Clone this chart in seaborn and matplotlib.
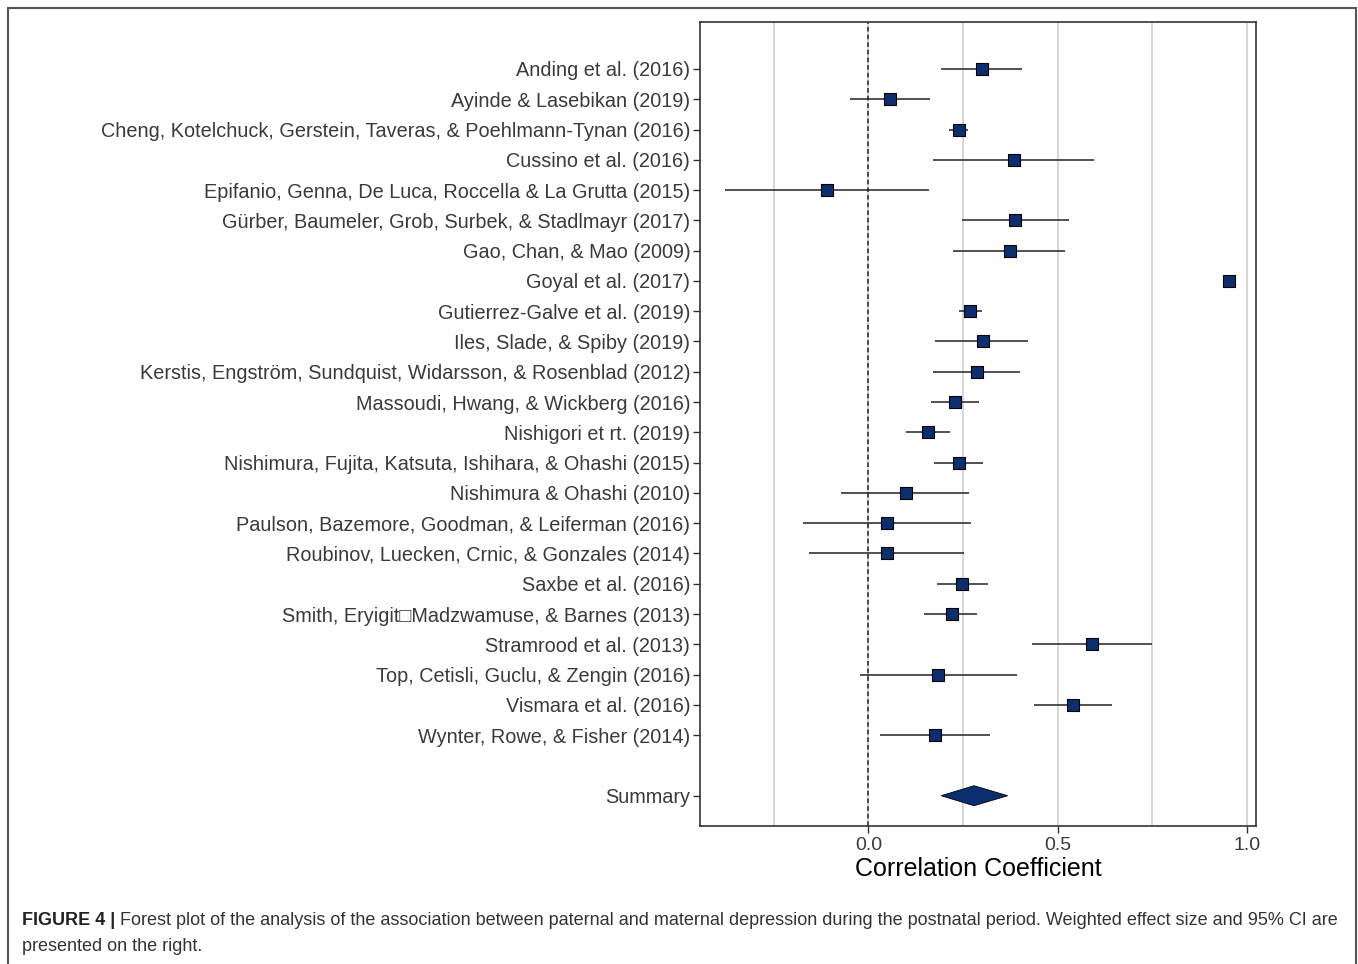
import numpy as np
import pandas as pd
import seaborn as sns
import matplotlib
matplotlib.use("Agg")
import matplotlib.pyplot as plt
from matplotlib.ticker import FixedLocator, MultipleLocator
from matplotlib.lines import Line2D

# ---------------- data ----------------
studies = [
    "Anding et al. (2016)",
    "Ayinde & Lasebikan (2019)",
    "Cheng, Kotelchuck, Gerstein, Taveras, & Poehlmann-Tynan (2016)",
    "Cussino et al. (2016)",
    "Epifanio, Genna, De Luca, Roccella & La Grutta (2015)",
    "Gürber, Baumeler, Grob, Surbek, & Stadlmayr (2017)",
    "Gao, Chan, & Mao (2009)",
    "Goyal et al. (2017)",
    "Gutierrez-Galve et al. (2019)",
    "Iles, Slade, & Spiby (2019)",
    "Kerstis, Engström, Sundquist, Widarsson, & Rosenblad (2012)",
    "Massoudi, Hwang, & Wickberg (2016)",
    "Nishigori et rt. (2019)",
    "Nishimura, Fujita, Katsuta, Ishihara, & Ohashi (2015)",
    "Nishimura & Ohashi (2010)",
    "Paulson, Bazemore, Goodman, & Leiferman (2016)",
    "Roubinov, Luecken, Crnic, & Gonzales (2014)",
    "Saxbe et al. (2016)",
    "Smith, Eryigit\u25a1Madzwamuse, & Barnes (2013)",
    "Stramrood et al. (2013)",
    "Top, Cetisli, Guclu, & Zengin (2016)",
    "Vismara et al. (2016)",
    "Wynter, Rowe, & Fisher (2014)",
]
estimates = [0.300, 0.058, 0.240, 0.384, -0.108, 0.388, 0.374, 0.952, 0.269,
             0.302, 0.288, 0.229, 0.157, 0.238, 0.099, 0.049, 0.049, 0.248,
             0.220, 0.590, 0.184, 0.541, 0.177]
lower = [0.191, -0.049, 0.214, 0.171, -0.378, 0.246, 0.223, 0.947, 0.238,
         0.176, 0.171, 0.165, 0.099, 0.173, -0.072, -0.174, -0.156, 0.180,
         0.148, 0.431, -0.023, 0.438, 0.030]
upper = [0.407, 0.163, 0.264, 0.595, 0.159, 0.529, 0.519, 0.957, 0.300,
         0.421, 0.401, 0.291, 0.215, 0.302, 0.267, 0.271, 0.253, 0.317,
         0.288, 0.748, 0.392, 0.643, 0.320]

summary_label = "Summary"
summary_est = 0.279
summary_lower = 0.192
summary_upper = 0.368

x_ticks = [0.0, 0.5, 1.0]
x_tick_labels = ["0.0", "0.5", "1.0"]
x_label = "Correlation Coefficient"

caption_bold = "FIGURE 4 |"
caption_line1 = (" Forest plot of the analysis of the association between paternal and maternal "
                 "depression during the postnatal period. Weighted effect size and 95% CI are")
caption_line2 = "presented on the right."

# ---------------- figure ----------------
W, H = 1358, 964
fig = plt.figure(figsize=(W / 100, H / 100), dpi=100)
sns.set_style("white")
plt.rcParams["font.family"] = ["Liberation Sans", "DejaVu Sans"]

ax = fig.add_axes([700 / W, 1 - 826 / H, 556 / W, 804 / H])

n = len(studies)
df = pd.DataFrame({"study": studies, "est": estimates, "lo": lower, "hi": upper})
df["pos"] = np.arange(n)
summary_pos = n + 1

navy = "#0B2F6E"
grid_col = "#CFCFCF"
text_col = "#3A3A3A"

# grid (major + minor vertical)
ax.set_axisbelow(True)
ax.xaxis.set_major_locator(FixedLocator(x_ticks))
ax.xaxis.set_minor_locator(MultipleLocator(0.25))
ax.grid(axis="x", which="both", color=grid_col, lw=1.2)
ax.grid(axis="y", visible=False)

# reference line at zero
ax.axvline(0, color="#222222", lw=1.1, ls=(0, (3, 2)), zorder=2)

# CI lines
ax.hlines(df["pos"], df["lo"], df["hi"], color="#222222", lw=1.1, zorder=3)

# points
sns.scatterplot(data=df, x="est", y="pos", marker="s", s=66, color=navy,
                edgecolor="black", linewidth=0.8, zorder=4, ax=ax, legend=False)

# summary diamond
dh = 0.33
ax.fill([summary_lower, summary_est, summary_upper, summary_est],
        [summary_pos, summary_pos - dh, summary_pos, summary_pos + dh],
        color=navy, edgecolor="black", lw=0.6, zorder=4)

# limits
xmin = min(lower + [summary_lower]); xmax = max(upper + [summary_upper])
pad = 0.05 * (xmax - xmin)
ax.set_xlim(xmin - pad, xmax + pad)
ax.set_ylim(summary_pos + 1, -1.55)

ax.set_yticks(list(df["pos"]) + [summary_pos])
ax.set_yticklabels(studies + [summary_label])
ax.set_xticklabels(x_tick_labels)
ax.tick_params(axis="y", which="both", length=5, width=1, color="#333333",
               labelsize=14.3, labelcolor=text_col, pad=2, left=True)
ax.tick_params(axis="x", which="major", length=5, width=1, color="#333333",
               labelsize=14, labelcolor=text_col, pad=3, bottom=True)
ax.tick_params(axis="x", which="minor", length=0)

ax.set_xlabel(x_label, fontsize=18, color="black", labelpad=2)
ax.set_ylabel("")

for sp in ax.spines.values():
    sp.set_visible(True)
    sp.set_color("#333333")
    sp.set_linewidth(1.2)

# outer frame (top, left, right)
frame_col = "#555555"
fig.add_artist(Line2D([8 / W, 8 / W], [0, 1 - 8 / H], transform=fig.transFigure, color=frame_col, lw=1.5))
fig.add_artist(Line2D([1356 / W, 1356 / W], [0, 1 - 8 / H], transform=fig.transFigure, color=frame_col, lw=1.5))
fig.add_artist(Line2D([8 / W, 1356 / W], [1 - 8 / H, 1 - 8 / H], transform=fig.transFigure, color=frame_col, lw=1.5))

# caption
cap_col = "#333333"
cap_size = 13
t1 = fig.text(22 / W, 1 - 925 / H, caption_bold, fontsize=cap_size, fontweight="bold",
              color="#222222", ha="left", va="baseline")
ann = fig.text(0, 0, caption_line1, fontsize=cap_size, color=cap_col, ha="left", va="bottom")
ann.remove()
ann = plt.annotate(caption_line1, xy=(1, 0), xycoords=t1, fontsize=cap_size, color=cap_col,
                   ha="left", va="bottom", annotation_clip=False)
fig.text(22 / W, 1 - 951 / H, caption_line2, fontsize=cap_size, color=cap_col, ha="left", va="baseline")

fig.savefig("out.png", dpi=100, facecolor="white")
